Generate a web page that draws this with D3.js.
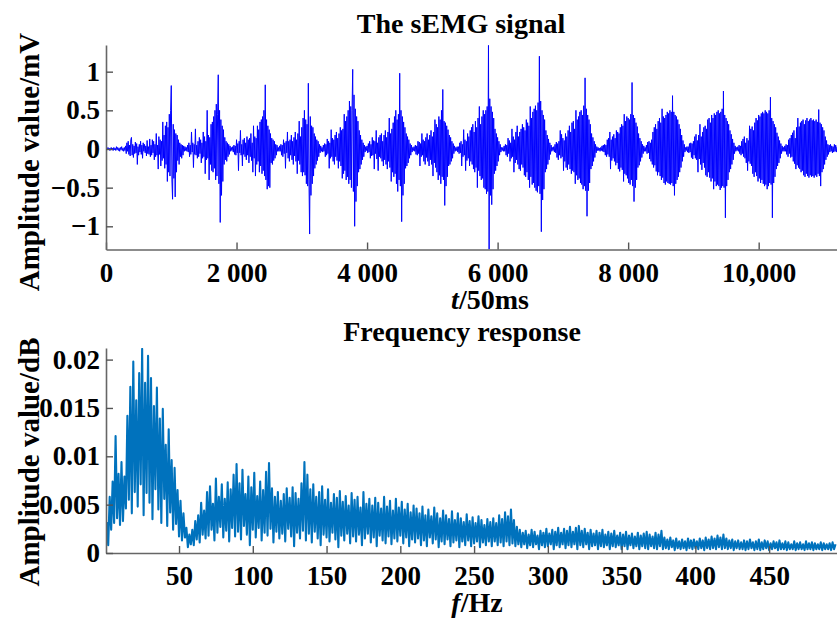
<!DOCTYPE html>
<html>
<head>
<meta charset="utf-8">
<title>sEMG signal and frequency response</title>
<script type="text/javascript" src="https://d3js.org/d3.v7.js"></script>
<style>
  body { margin: 0; background: #fff; }
  text { font-family: "Palatino Linotype", "Book Antiqua", "Liberation Serif", serif; font-weight: bold; fill: #000; }
</style>
</head>
<body>
<script type="text/javascript">
const width = 837;
const height = 619;

// top panel: sEMG signal, one sample every 10 units of t
const semgStep = 10;
const semgValues = [
  // 0 - 690: quiet start, small activity
  0, 0.01, -0.01, 0.02, -0.01, 0.01, -0.02, 0.01, 0.02, -0.01, 0.01, -0.02, 0.02, -0.01, 0.01, -0.02, 0.03, -0.01, 0.02, -0.02, 0.01, -0.03, 0.02, -0.01, 0.03, -0.02, 0.01, -0.03, 0.02, -0.02,
  0.04, -0.06, 0.08, -0.03, 0.1, -0.07, 0.05, -0.09, 0.12, 0.15, -0.08, 0.06, -0.11, 0.04, -0.06, 0.09, -0.05, 0.07, -0.2, 0.03, -0.08, 0.06, -0.04, 0.1, -0.07, 0.05, -0.12, 0.08, -0.03, 0.06,
  -0.05, 0.04, -0.09, 0.11, -0.06, 0.03, -0.07, 0.13, -0.1, 0.05,
  // burst 1
  -0.08, 0.12, -0.05, 0.1, -0.14, 0.06, -0.1, 0.2, -0.08, 0.05, -0.26, 0.16, -0.07, 0.12, -0.22, 0.1, -0.15, 0.35, -0.12, 0.18,
  -0.25, 0.3, -0.2, 0.35, -0.42, 0.28, -0.3, 0.45, -0.35, 0.5, 0.82, -0.4, -0.65, 0.32, -0.38, 0.25, -0.62, 0.2, -0.3,
  0.18, -0.15, 0.12, -0.2, 0.08, -0.1, 0.06, -0.12, 0.05, -0.08, 0.04, -0.03,
  0.03, -0.02, 0.02, -0.03, 0.05, -0.04, 0.08, -0.1, 0.05, -0.07, 0.22, -0.04, 0.08, -0.24, 0.06, -0.07, 0.26, -0.08, 0.05, -0.12, 0.1,
  // burst 2
  -0.1, 0.15, -0.06, 0.12, -0.18, 0.08, -0.12, 0.22, -0.1, 0.16, -0.32, 0.1, -0.14, 0.5, -0.12, 0.18, -0.4, 0.15, -0.2, 0.32,
  -0.28, 0.35, -0.3, 0.42, -0.25, 0.5, -0.4, 0.58, -0.35, 0.45, 0.96, -0.45, 0.5, -0.95, 0.38, -0.6, 0.3, -0.42, 0.25,
  -0.2, 0.15, -0.14, 0.1, -0.16, 0.08, -0.1, 0.06, -0.07, 0.04, -0.03, 0.02,
  -0.02, 0.03, -0.04, 0.05, -0.07, 0.04, -0.08, 0.12, -0.05, 0.07, -0.28, 0.1, -0.05, 0.24, -0.08, 0.06, -0.22, 0.12, -0.07, 0.14, -0.1,
  // burst 3
  0.08, -0.14, 0.16, -0.08, 0.12, -0.18, 0.14, -0.1, 0.2, -0.15, 0.08, -0.3, 0.3, -0.12, 0.16, -0.35, 0.14, -0.2, 0.3, -0.16,
  0.25, -0.3, 0.35, -0.22, 0.38, -0.32, 0.42, -0.28, 0.5, -0.35, 0.83, -0.4, 0.38, -0.52, 0.3, -0.48, 0.25, -0.5, 0.2,
  -0.18, 0.14, -0.2, 0.12, -0.15, 0.1, -0.12, 0.06, -0.08, 0.05, -0.03, 0.02,
  -0.03, 0.04, -0.03, 0.06, -0.08, 0.05, -0.1, 0.12, -0.06, 0.08, -0.25, 0.1, -0.05, 0.22, -0.12,
  // burst 4
  0.1, -0.16, 0.12, -0.08, 0.18, -0.14, 0.1, -0.2, 0.15, -0.09, 0.22, -0.16, 0.12, -0.32, 0.2, -0.15, 0.36, -0.2, 0.16, -0.3,
  0.28, -0.35, 0.4, -0.3, 0.5, -0.34, 0.38, -0.45, 0.32, -0.48, 0.85, -0.4, -1.1, 0.42, -0.6, 0.3, -0.45, 0.28, -0.35,
  0.2, -0.25, 0.16, -0.2, 0.12, -0.15, 0.1, -0.1, 0.06, -0.05, 0.04, -0.03,
  0.02, -0.04, 0.05, -0.03, 0.07, -0.1, 0.06, -0.08, 0.13, -0.06, 0.1, -0.25, 0.08, -0.12, 0.25, -0.1, 0.14,
  // burst 5
  -0.16, 0.12, -0.2, 0.18, -0.1, 0.22, -0.15, 0.14, -0.25, 0.2, -0.16, 0.28, -0.22, 0.24, -0.38, 0.26, -0.32, 0.45, -0.28, 0.36,
  -0.4, 0.42, -0.36, 0.5, -0.45, 0.62, -0.4, 0.55, -0.5, 0.5, 1.03, -0.55, 0.7, -1.0, 0.52, -0.68, 0.42, -0.48, 0.36,
  -0.3, 0.24, -0.26, 0.18, -0.2, 0.12, -0.14, 0.08, -0.1, 0.05, -0.04, 0.03,
  -0.02, 0.04, -0.05, 0.07, -0.04, 0.1, -0.12, 0.06, -0.09, 0.15, -0.08, 0.11, -0.26, 0.1, -0.06, 0.24, -0.13, 0.08, -0.28, 0.15, -0.1,
  // burst 6
  0.18, -0.12, 0.2, -0.16, 0.1, -0.22, 0.18, -0.14, 0.24, -0.2, 0.15, -0.26, 0.22, -0.16, 0.4, -0.24, 0.2, -0.42, 0.26, -0.3,
  0.34, -0.36, 0.42, -0.32, 0.5, -0.45, 0.38, -0.55, 0.45, -0.4, 0.98, -0.48, 0.5, -0.94, 0.42, -0.6, 0.35, -0.45, 0.28,
  -0.25, 0.2, -0.22, 0.16, -0.18, 0.12, -0.12, 0.07, -0.08, 0.05, -0.04, 0.02,
  -0.02, 0.03, -0.03, 0.05, -0.07, 0.04, -0.08, 0.1, -0.06, 0.09, -0.22, 0.07, -0.1, 0.2, -0.08,
  // burst 7
  0.12, -0.16, 0.1, -0.2, 0.15, -0.11, 0.2, -0.16, 0.12, -0.22, 0.18, -0.14, 0.24, -0.2, 0.16, -0.35, 0.22, -0.18, 0.38, -0.24,
  0.32, -0.3, 0.28, -0.4, 0.42, -0.34, 0.38, -0.45, 0.5, -0.36, 0.77, -0.4, 0.36, -0.73, 0.34, -0.48, 0.3, -0.36, 0.25,
  -0.22, 0.18, -0.2, 0.15, -0.16, 0.1, -0.12, 0.07, -0.06, 0.04, -0.03, 0.02,
  -0.02, 0.03, -0.04, 0.03, -0.06, 0.08, -0.05, 0.1, -0.22, 0.06, -0.1, 0.25, -0.08, 0.12, -0.28, 0.1, -0.15, 0.2, -0.12,
  // burst 8
  0.16, -0.22, 0.24, -0.16, 0.28, -0.2, 0.32, -0.26, 0.22, -0.3, 0.36, -0.24, 0.28, -0.5, 0.4, -0.28, 0.55, -0.35, 0.32, -0.4,
  0.42, -0.38, 0.5, -0.5, 0.45, -0.52, 0.5, -0.58, 0.55, -0.55, 1.34, -1.3, 0.65, -0.6, 0.55, -0.72, 0.48, -0.52, 0.4,
  -0.32, 0.26, -0.28, 0.2, -0.22, 0.15, -0.16, 0.1, -0.08, 0.06, -0.04, 0.02,
  -0.02, 0.02, -0.03, 0.04, -0.03, 0.06, -0.08, 0.05, -0.1, 0.14, -0.06, 0.11, -0.16, 0.08, -0.12, 0.26, -0.1, 0.16, -0.3, 0.12, -0.18, 0.22, -0.14, 0.3, -0.2, 0.16, -0.26,
  // burst 9
  0.22, -0.28, 0.26, -0.2, 0.32, -0.24, 0.28, -0.34, 0.24, -0.36, 0.38, -0.3, 0.34, -0.4, 0.3, -0.5, 0.55, -0.36, 0.4, -0.46,
  0.48, -0.44, 0.52, -0.5, 0.56, -0.54, 0.5, -0.56, 0.6, -0.48, 1.2, -0.58, 0.62, -1.07, 0.5, -0.66, 0.44, -0.52, 0.38,
  -0.3, 0.24, -0.26, 0.18, -0.2, 0.13, -0.14, 0.08, -0.07, 0.05, -0.03, 0.02,
  -0.02, 0.03, -0.04, 0.06, -0.05, 0.09, -0.11, 0.07, -0.14, 0.1, -0.08, 0.24, -0.12, 0.19, -0.1, 0.14, -0.28, 0.11, -0.16,
  // burst 10
  0.2, -0.24, 0.16, -0.27, 0.24, -0.2, 0.3, -0.26, 0.22, -0.32, 0.34, -0.28, 0.36, -0.3, 0.26, -0.45, 0.5, -0.34, 0.38, -0.4,
  0.42, -0.38, 0.48, -0.44, 0.5, -0.46, 0.44, -0.52, 0.56, -0.48, 0.92, -0.54, 0.52, -0.87, 0.44, -0.54, 0.38, -0.44, 0.32,
  -0.26, 0.2, -0.22, 0.15, -0.16, 0.1, -0.11, 0.06, -0.05, 0.03, -0.02, 0.02,
  -0.02, 0.01, -0.03, 0.02, -0.02, 0.04, -0.03, 0.05, -0.04, 0.06, -0.08, 0.05, -0.1, 0.12, -0.07, 0.14, -0.1, 0.22, -0.26, 0.12, -0.15,
  // burst 11
  0.16, -0.12, 0.19, -0.16, 0.14, -0.21, 0.24, -0.18, 0.22, -0.26, 0.2, -0.29, 0.28, -0.24, 0.32, -0.27, 0.3, -0.42, 0.45, -0.32,
  0.36, -0.34, 0.42, -0.38, 0.4, -0.44, 0.38, -0.46, 0.45, -0.4, 0.86, -0.48, 0.44, -0.68, 0.4, -0.5, 0.34, -0.4, 0.29,
  -0.24, 0.2, -0.21, 0.14, -0.16, 0.1, -0.11, 0.06, -0.06, 0.04, -0.03, 0.02,
  -0.03, 0.05, -0.06, 0.09, -0.05, 0.1, -0.13, 0.08, -0.16, 0.12, -0.2,
  // burst 12
  0.22, -0.24, 0.28, -0.21, 0.32, -0.29, 0.26, -0.34, 0.36, -0.3, 0.4, -0.35, 0.34, -0.4, 0.52, -0.37, 0.42, -0.44, 0.4, -0.46,
  0.44, -0.42, 0.48, -0.44, 0.46, -0.45, 0.5, -0.46, 0.48, -0.44, 0.69, -0.48, 0.48, -0.6, 0.44, -0.45, 0.42, -0.4, 0.38,
  -0.36, 0.32, -0.3, 0.26, -0.24, 0.18, -0.16, 0.11, -0.1, 0.06, -0.04, 0.02,
  -0.02, 0.03, -0.04, 0.03, -0.05, 0.07, -0.04, 0.08, -0.11, 0.07, -0.13, 0.1, -0.08, 0.16, -0.12, 0.19, -0.14, 0.11, -0.3, 0.18, -0.13, 0.32, -0.2, 0.16, -0.27, 0.22, -0.18,
  // burst 13
  0.28, -0.24, 0.3, -0.34, 0.26, -0.36, 0.38, -0.3, 0.4, -0.37, 0.34, -0.42, 0.44, -0.38, 0.4, -0.52, 0.46, -0.42, 0.44, -0.48,
  0.48, -0.46, 0.5, -0.48, 0.46, -0.53, 0.48, -0.5, 0.52, -0.48, 0.75, -0.5, 0.44, -0.89, 0.4, -0.48, 0.36, -0.4, 0.32,
  -0.3, 0.24, -0.26, 0.19, -0.2, 0.13, -0.14, 0.08, -0.06, 0.04, -0.03, 0.02,
  -0.02, 0.03, -0.03, 0.05, -0.06, 0.04, -0.08, 0.1, -0.06, 0.13, -0.1, 0.16, -0.12, 0.08, -0.18, 0.14, -0.28, 0.11, -0.16, 0.3, -0.19,
  // burst 14
  0.26, -0.22, 0.29, -0.32, 0.24, -0.36, 0.34, -0.3, 0.4, -0.35, 0.37, -0.42, 0.44, -0.38, 0.42, -0.44, 0.46, -0.4, 0.48, -0.45,
  0.46, -0.48, 0.5, -0.46, 0.48, -0.52, 0.46, -0.48, 0.5, -0.44, 0.67, -0.46, 0.4, -0.89, 0.36, -0.44, 0.32, -0.36, 0.28,
  -0.26, 0.21, -0.22, 0.16, -0.18, 0.11, -0.12, 0.07, -0.06, 0.04, -0.03, 0.02,
  -0.03, 0.04, -0.03, 0.06, -0.07, 0.05, -0.1, 0.12, -0.06, 0.14, -0.11, 0.18, -0.1, 0.21, -0.16, 0.24, -0.19, 0.14, -0.26, 0.28, -0.21, 0.4, -0.24,
  // burst 15
  0.29, -0.26, 0.34, -0.3, 0.36, -0.28, 0.38, -0.34, 0.32, -0.36, 0.37, -0.32, 0.4, -0.35, 0.36, -0.37, 0.38, -0.34, 0.4, -0.36,
  0.37, -0.35, 0.38, -0.37, 0.36, -0.34, 0.38, -0.36, 0.35, -0.32, 0.51, -0.35, 0.34, -0.48, 0.32, -0.3, 0.28, -0.26, 0.24,
  -0.2, 0.16, -0.14, 0.11, -0.1, 0.06, -0.07, 0.05, -0.04, 0.06, -0.03, 0.04,
  -0.05, 0.03, -0.04, 0.06, -0.03, 0.05, -0.04, 0.03
];
const semgXTicks = [0, 2000, 4000, 6000, 8000, 10000];
const semgXLabels = ["0", "2 000", "4 000", "6 000", "8 000", "10,000"];
const semgYTicks = [-1, -0.5, 0, 0.5, 1];
const semgYLabels = ["\u22121", "\u22120.5", "0", "0.5", "1"];

// bottom panel: amplitude spectrum, one value per Hz starting at 1 Hz
const freqStart = 1;
const freqValues = [
  0.0032, 0.0008, 0.0058, 0.0024, 0.0074, 0.0031, 0.0121, 0.0036, 0.0082, 0.0029,
  0.0094, 0.0033, 0.0079, 0.0046, 0.0142, 0.0055, 0.0172, 0.0041, 0.0198, 0.0063,
  0.0158, 0.0048, 0.0186, 0.0071, 0.0211, 0.0039, 0.0176, 0.0062, 0.0204, 0.0052,
  0.0181, 0.0035, 0.0152, 0.0066, 0.0171, 0.0045, 0.0139, 0.0031, 0.0149, 0.0056,
  0.0112, 0.0028, 0.0128, 0.0042, 0.0096, 0.0024, 0.0088, 0.003, 0.0065, 0.0017,
  0.0054, 0.0013, 0.0041, 0.0016, 0.0026, 0.0006, 0.0019, 0.0009, 0.0024, 0.0008,
  0.0033, 0.0014, 0.0039, 0.0011, 0.0052, 0.0019, 0.0044, 0.0015, 0.0063, 0.0018,
  0.0069, 0.0024, 0.0051, 0.0013, 0.0077, 0.0021, 0.0058, 0.0027, 0.0071, 0.0016,
  0.0056, 0.0023, 0.0073, 0.0012, 0.0066, 0.0026, 0.0081, 0.0017, 0.0092, 0.0022,
  0.0072, 0.0014, 0.0086, 0.0028, 0.0061, 0.0019, 0.0079, 0.0008, 0.0068, 0.0024,
  0.0083, 0.0016, 0.0059, 0.0026, 0.0074, 0.0013, 0.0065, 0.0021, 0.0084, 0.0018,
  0.0093, 0.0025, 0.0067, 0.0011, 0.0058, 0.0022, 0.0063, 0.0015, 0.0054, 0.002,
  0.0061, 0.0012, 0.0067, 0.0025, 0.0057, 0.0017, 0.0068, 0.0007, 0.0062, 0.0021,
  0.0056, 0.0015, 0.0072, 0.0023, 0.0094, 0.0013, 0.0081, 0.002, 0.0066, 0.0011,
  0.0071, 0.0022, 0.0058, 0.0015, 0.0063, 0.0008, 0.0069, 0.0019, 0.0055, 0.0016,
  0.0066, 0.0012, 0.0052, 0.0021, 0.0061, 0.0014, 0.0057, 0.0006, 0.0064, 0.0018,
  0.0053, 0.0013, 0.0059, 0.002, 0.0049, 0.001, 0.0062, 0.0017, 0.0055, 0.0012,
  0.0058, 0.0019, 0.0047, 0.0008, 0.0063, 0.0015, 0.0051, 0.002, 0.0056, 0.0011,
  0.0049, 0.0016, 0.0057, 0.0007, 0.0052, 0.0018, 0.0046, 0.0013, 0.0058, 0.001,
  0.0048, 0.0017, 0.0054, 0.0009, 0.0044, 0.0015, 0.0056, 0.0012, 0.0047, 0.0018,
  0.0053, 0.001, 0.0045, 0.0016, 0.0051, 0.0007, 0.0042, 0.0014, 0.0049, 0.0011,
  0.0046, 0.0015, 0.0041, 0.0008, 0.0048, 0.0013, 0.0039, 0.0007, 0.0045, 0.0016,
  0.0038, 0.001, 0.0047, 0.0014, 0.0041, 0.0006, 0.0036, 0.0012, 0.0044, 0.0009,
  0.0039, 0.0014, 0.0035, 0.0007, 0.0043, 0.0011, 0.0034, 0.0013, 0.0041, 0.0006,
  0.0036, 0.0012, 0.0032, 0.0008, 0.004, 0.0013, 0.0033, 0.0007, 0.0037, 0.001,
  0.0031, 0.0012, 0.0038, 0.0006, 0.0034, 0.0011, 0.0029, 0.0008, 0.0035, 0.0012,
  0.0032, 0.0007, 0.0036, 0.0012, 0.0031, 0.0008, 0.0039, 0.0011, 0.0035, 0.0007,
  0.0042, 0.0012, 0.0038, 0.0008, 0.0045, 0.001, 0.0034, 0.0007, 0.0027, 0.0009,
  0.0024, 0.0006, 0.0021, 0.0009, 0.0023, 0.0005, 0.0019, 0.0008, 0.0024, 0.0006,
  0.0022, 0.0009, 0.0018, 0.0004, 0.0023, 0.0008, 0.0021, 0.0006, 0.0025, 0.0007,
  0.002, 0.0009, 0.0024, 0.0004, 0.0022, 0.0008, 0.0026, 0.0006, 0.0021, 0.0009,
  0.0025, 0.0005, 0.0023, 0.0008, 0.0027, 0.0006, 0.0022, 0.0009, 0.0026, 0.0004,
  0.0028, 0.0008, 0.0023, 0.0006, 0.0025, 0.0009, 0.0021, 0.0004, 0.0024, 0.0007,
  0.002, 0.0008, 0.0023, 0.0004, 0.0021, 0.0007, 0.0024, 0.0006, 0.0019, 0.0008,
  0.0022, 0.0004, 0.002, 0.0007, 0.0023, 0.0006, 0.0018, 0.0008, 0.0021, 0.0004,
  0.0019, 0.0007, 0.0022, 0.0004, 0.0018, 0.0008, 0.002, 0.0005, 0.0017, 0.0007,
  0.0021, 0.0004, 0.0018, 0.0007, 0.002, 0.0005, 0.0022, 0.0004, 0.0019, 0.0007,
  0.0017, 0.0005, 0.0021, 0.0004, 0.0019, 0.0007, 0.0023, 0.0004, 0.0016, 0.0005,
  0.0014, 0.0004, 0.0016, 0.0006, 0.0013, 0.0003, 0.0015, 0.0005, 0.0012, 0.0004,
  0.0014, 0.0005, 0.0012, 0.0003, 0.0015, 0.0005, 0.0013, 0.0004, 0.0014, 0.0005,
  0.0012, 0.0004, 0.0015, 0.0005, 0.0013, 0.0003, 0.0016, 0.0005, 0.0014, 0.0004,
  0.0017, 0.0005, 0.0015, 0.0004, 0.0018, 0.0006, 0.0016, 0.0004, 0.0019, 0.0005,
  0.0015, 0.0004, 0.0013, 0.0005, 0.0014, 0.0003, 0.0012, 0.0005, 0.0013, 0.0004,
  0.0011, 0.0004, 0.0013, 0.0003, 0.0012, 0.0004, 0.0014, 0.0005, 0.0011, 0.0003,
  0.0012, 0.0004, 0.0014, 0.0003, 0.0011, 0.0004, 0.0013, 0.0005, 0.0012, 0.0003,
  0.001, 0.0004, 0.0012, 0.0005, 0.0011, 0.0003, 0.0013, 0.0004, 0.001, 0.0004,
  0.0012, 0.0003, 0.0011, 0.0004, 0.0009, 0.0004, 0.0012, 0.0003, 0.001, 0.0004,
  0.0011, 0.0004, 0.0009, 0.0003, 0.0012, 0.0004, 0.001, 0.0004, 0.0011, 0.0003,
  0.001, 0.0004, 0.0009, 0.0004, 0.0011, 0.0003, 0.001, 0.0004, 0.0009, 0.0004,
  0.001, 0.0003, 0.0011, 0.0004, 0.0009
];
const freqXTicks = [50, 100, 150, 200, 250, 300, 350, 400, 450];
const freqYTicks = [0, 0.005, 0.01, 0.015, 0.02];
const freqYLabels = ["0", "0.005", "0.01", "0.015", "0.02"];

const svg = d3.select("body")
  .append("svg")
  .attr("width", width)
  .attr("height", height);

// panel boxes
const top1 = { left: 106, right: 837, top: 45, bottom: 249.5 };
const bot1 = { left: 106, right: 837, top: 348, bottom: 553 };

const xT = d3.scaleLinear().domain([0, 11200]).range([top1.left, top1.right]);
const yT = d3.scaleLinear().domain([-1.3, 1.345]).range([top1.bottom, top1.top]);
const xF = d3.scaleLinear().domain([0.5, 496]).range([bot1.left, bot1.right]);
const yF = d3.scaleLinear().domain([0, 0.0212]).range([bot1.bottom, bot1.top]);

svg.append("clipPath").attr("id", "clipTop")
  .append("rect").attr("x", top1.left).attr("y", top1.top)
  .attr("width", top1.right - top1.left).attr("height", top1.bottom - top1.top);
svg.append("clipPath").attr("id", "clipBot")
  .append("rect").attr("x", bot1.left).attr("y", bot1.top)
  .attr("width", bot1.right - bot1.left).attr("height", bot1.bottom - bot1.top);

// signal line
const lineT = d3.line()
  .x((d, i) => xT(i * semgStep))
  .y(d => yT(d));
svg.append("path")
  .datum(semgValues)
  .attr("clip-path", "url(#clipTop)")
  .attr("fill", "none")
  .attr("stroke", "#0000ff")
  .attr("stroke-width", 1)
  .attr("stroke-linejoin", "round")
  .attr("d", lineT);

// spectrum line
const lineF = d3.line()
  .x((d, i) => xF(freqStart + i))
  .y(d => yF(d));
svg.append("path")
  .datum(freqValues)
  .attr("clip-path", "url(#clipBot)")
  .attr("fill", "none")
  .attr("stroke", "#0072bd")
  .attr("stroke-width", 2.1)
  .attr("stroke-linejoin", "round")
  .attr("d", lineF);

function styleAxis(g) {
  g.select(".domain").attr("stroke", "#666").attr("stroke-width", 1.6);
  g.selectAll(".tick line").attr("stroke", "#555").attr("stroke-width", 1.4);
  g.selectAll(".tick text").style("font-size", "27px").attr("fill", "#000");
}

// top axes
svg.append("g")
  .attr("transform", `translate(0,${top1.bottom})`)
  .call(d3.axisBottom(xT).tickValues(semgXTicks)
    .tickFormat((d, i) => semgXLabels[i]).tickSizeInner(-7).tickSizeOuter(0).tickPadding(13))
  .call(styleAxis);
svg.append("g")
  .attr("transform", `translate(${top1.left},0)`)
  .call(d3.axisLeft(yT).tickValues(semgYTicks)
    .tickFormat((d, i) => semgYLabels[i]).tickSizeInner(-7).tickSizeOuter(0).tickPadding(6))
  .call(styleAxis);

// bottom axes
svg.append("g")
  .attr("transform", `translate(0,${bot1.bottom})`)
  .call(d3.axisBottom(xF).tickValues(freqXTicks).tickFormat(d3.format("d"))
    .tickSizeInner(-7).tickSizeOuter(0).tickPadding(13))
  .call(styleAxis);
svg.append("g")
  .attr("transform", `translate(${bot1.left},0)`)
  .call(d3.axisLeft(yF).tickValues(freqYTicks)
    .tickFormat((d, i) => freqYLabels[i]).tickSizeInner(-7).tickSizeOuter(0).tickPadding(6))
  .call(styleAxis);

// titles
svg.append("text").attr("x", 461).attr("y", 33).attr("text-anchor", "middle")
  .style("font-size", "28px").text("The sEMG signal");
svg.append("text").attr("x", 462).attr("y", 341).attr("text-anchor", "middle")
  .style("font-size", "28px").text("Frequency response");

// x labels
const xl1 = svg.append("text").attr("x", 490).attr("y", 309).attr("text-anchor", "middle")
  .style("font-size", "28px");
xl1.append("tspan").style("font-style", "italic").text("t");
xl1.append("tspan").text("/50ms");
const xl2 = svg.append("text").attr("x", 477).attr("y", 612).attr("text-anchor", "middle")
  .style("font-size", "28px");
xl2.append("tspan").style("font-style", "italic").text("f");
xl2.append("tspan").text("/Hz");

// y labels
svg.append("text").attr("transform", "translate(39,162) rotate(-90)")
  .attr("text-anchor", "middle").style("font-size", "29px").text("Amplitude value/mV");
svg.append("text").attr("transform", "translate(39,462) rotate(-90)")
  .attr("text-anchor", "middle").style("font-size", "29px").text("Amplitude value/dB");
</script>
</body>
</html>
